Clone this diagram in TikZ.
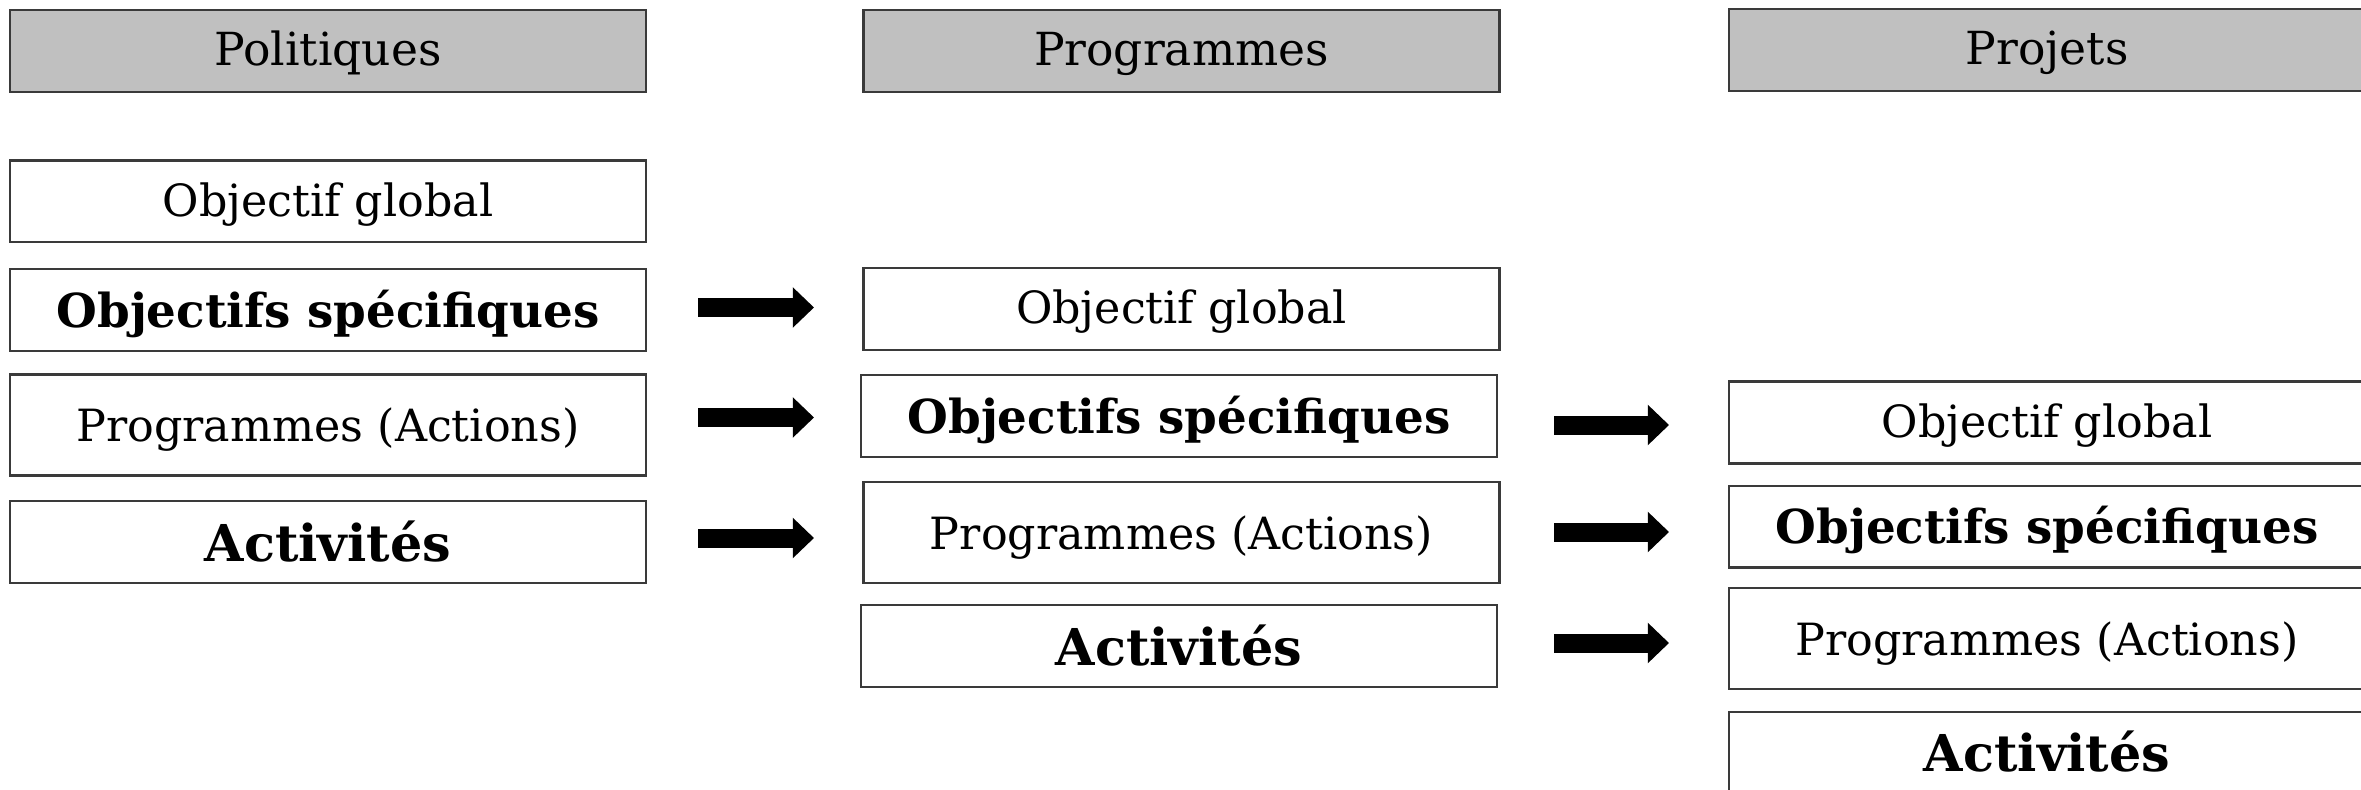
\documentclass[tikz,border=0pt]{standalone}
\usepackage{fontspec}
\setmainfont{DejaVu Serif}
\usetikzlibrary{arrows.meta}
\definecolor{headgray}{HTML}{C0C0C0}
\definecolor{edgegray}{HTML}{3A3A3A}
\begin{document}
\begin{tikzpicture}[x=0.25pt,y=-0.25pt,
  box/.style={draw=edgegray, line width=0.6pt, fill=white, inner sep=0pt,
    minimum width=159pt, minimum height=20.4pt,
    text height=1.0em, text depth=0.25em,
    font=\fontsize{11.1}{13}\selectfont},
  tallbox/.style={box, minimum height=25.3pt, text height=1.08em},
  headbox/.style={box, fill=headgray, font=\fontsize{11.4}{13}\selectfont},
  boldtxt/.style={font=\fontsize{11.7}{13}\selectfont\bfseries, text height=1.12em},
  acttxt/.style={font=\fontsize{12.7}{14}\selectfont\bfseries, text height=1.2em},
  blockarrow/.style={line width=4.75pt, draw=black,
    -{Triangle[length=5.3pt,width=9.8pt]}}]
\useasboundingbox (0,0) rectangle (2361,790);
\clip (0,0) rectangle (2361,790);

% column 1 : Politiques
\node[headbox] (h1) at (328,51) {Politiques};
\node[box] (og1) at (328,201.5) {Objectif global};
\node[box, boldtxt] (os1) at (328,310) {Objectifs spécifiques};
\node[tallbox] (pa1) at (328,425) {Programmes (Actions)};
\node[box, acttxt] (ac1) at (328,542) {Activités};

% column 2 : Programmes
\node[headbox] (h2) at (1181.5,51) {Programmes};
\node[box] (og2) at (1181.5,309) {Objectif global};
\node[box, boldtxt] (os2) at (1179,416) {Objectifs spécifiques};
\node[tallbox] (pa2) at (1181.5,532.5) {Programmes (Actions)};
\node[box, acttxt] (ac2) at (1179,646) {Activités};

% column 3 : Projets
\node[headbox] (h3) at (2047,50) {Projets};
\node[box] (og3) at (2047,422.5) {Objectif global};
\node[box, boldtxt] (os3) at (2047,526.5) {Objectifs spécifiques};
\node[tallbox] (pa3) at (2047,638.5) {Programmes (Actions)};
\node[box, acttxt] (ac3) at (2047,752.5) {Activités};

% arrows column 1 -> column 2
\coordinate (a1s) at (698,307.5);  \coordinate (a1e) at (814,307.5);
\coordinate (a2s) at (698,417.5);  \coordinate (a2e) at (814,417.5);
\coordinate (a3s) at (698,538);    \coordinate (a3e) at (814,538);
\draw[blockarrow] (a1s) -- (a1e);
\draw[blockarrow] (a2s) -- (a2e);
\draw[blockarrow] (a3s) -- (a3e);

% arrows column 2 -> column 3
\coordinate (b1s) at (1554,425);   \coordinate (b1e) at (1669,425);
\coordinate (b2s) at (1554,532);   \coordinate (b2e) at (1669,532);
\coordinate (b3s) at (1554,643);   \coordinate (b3e) at (1669,643);
\draw[blockarrow] (b1s) -- (b1e);
\draw[blockarrow] (b2s) -- (b2e);
\draw[blockarrow] (b3s) -- (b3e);
\end{tikzpicture}
\end{document}
